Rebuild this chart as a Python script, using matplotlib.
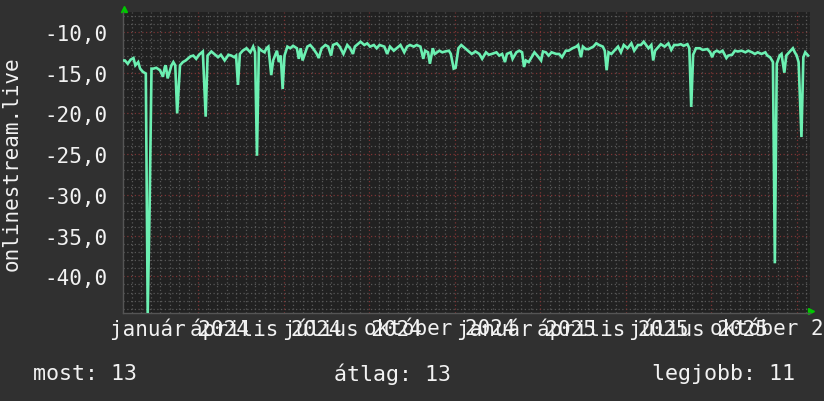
import numpy as np
import pandas as pd
import matplotlib
matplotlib.use("Agg")
import matplotlib.pyplot as plt

# napok a kezdettol (2023-11-03) es a mert ertekek
start = pd.Timestamp("2023-11-03")
span_days = 723

days = [1, 2, 5, 8, 11, 13, 16, 18, 21, 24, 26, 28, 30, 32, 35, 39, 42, 44, 45, 47,
        51, 53, 55, 57, 60, 63, 66, 71, 74, 77, 80, 84, 87, 89, 93, 97, 100, 103, 107, 111,
        114, 117, 119, 121, 123, 126, 130, 134, 137, 139, 141, 143, 146, 149, 151, 153, 156, 158, 162, 164,
        166, 168, 170, 173, 176, 179, 183, 185, 187, 189, 194, 197, 200, 204, 206, 209, 213, 216, 219, 221,
        225, 228, 232, 236, 239, 242, 244, 248, 250, 254, 257, 260, 264, 267, 270, 275, 278, 281, 285, 288,
        292, 296, 299, 302, 306, 309, 313, 316, 318, 321, 323, 326, 328, 333, 336, 339, 343, 345, 348, 350,
        353, 356, 360, 364, 367, 371, 375, 378, 382, 385, 388, 393, 396, 399, 402, 404, 408, 410, 414, 417,
        420, 422, 424, 427, 430, 433, 436, 440, 442, 445, 448, 451, 456, 459, 462, 466, 469, 473, 477, 479,
        482, 484, 487, 490, 495, 498, 501, 505, 507, 509, 511, 514, 517, 521, 524, 527, 531, 535, 538, 542,
        545, 548, 553, 556, 558, 560, 563, 566, 570, 574, 577, 580, 584, 587, 590, 594, 596, 598, 600, 603,
        607, 610, 615, 618, 620, 622, 625, 628, 631, 635, 637, 641, 644, 647, 651, 655, 658, 662, 665, 668,
        672, 676, 678, 681, 684, 686, 688, 691, 693, 696, 698, 701, 705, 707, 709, 711, 714, 716, 718, 721]

values = [-13.5, -13.5, -13.9, -13.4, -13.2, -14.1, -13.7, -14.5, -14.9, -15.1, -44.5, -31.6, -14.5, -14.5, -14.4, -14.7, -15.5, -14.3, -14.1, -15.7,
          -14.1, -13.7, -14.1, -20.0, -14.1, -13.7, -13.5, -13.0, -12.9, -13.3, -12.8, -12.4, -20.4, -12.9, -12.4, -12.8, -13.1, -12.8, -13.5, -12.8,
          -12.9, -13.1, -12.9, -16.5, -12.7, -12.3, -12.0, -12.5, -11.8, -12.5, -25.2, -12.0, -12.3, -12.5, -12.0, -11.8, -15.3, -13.5, -12.3, -13.7,
          -12.9, -17.0, -12.9, -11.8, -12.0, -11.7, -12.0, -13.3, -12.0, -13.5, -11.8, -11.6, -12.0, -12.7, -13.2, -12.0, -11.6, -11.8, -12.9, -11.6,
          -11.4, -11.8, -12.7, -11.6, -12.0, -12.7, -11.8, -11.4, -11.2, -11.6, -11.4, -11.8, -11.6, -12.0, -11.6, -11.8, -12.7, -11.8, -12.3, -12.0,
          -11.6, -12.5, -11.8, -11.6, -11.8, -11.6, -11.8, -13.3, -12.3, -12.5, -13.9, -12.0, -12.7, -12.3, -12.5, -12.4, -12.3, -12.7, -14.5, -14.4,
          -12.0, -11.6, -12.0, -12.4, -12.7, -12.4, -12.7, -13.3, -12.5, -12.8, -12.7, -12.5, -12.9, -12.7, -13.7, -12.7, -12.5, -13.3, -12.5, -12.3,
          -12.5, -14.3, -13.5, -13.7, -13.1, -12.5, -12.9, -13.5, -12.4, -12.5, -12.9, -12.5, -12.7, -12.7, -13.1, -12.3, -12.3, -12.0, -11.8, -11.6,
          -13.1, -11.8, -12.1, -12.1, -11.8, -11.4, -11.6, -11.8, -12.3, -14.7, -12.5, -12.7, -12.3, -11.8, -12.5, -11.6, -12.0, -11.4, -12.3, -11.6,
          -11.6, -11.2, -12.0, -11.6, -13.5, -12.3, -11.9, -11.5, -11.8, -11.4, -12.2, -11.6, -11.6, -11.5, -11.7, -11.5, -12.0, -19.2, -12.8, -12.0,
          -12.0, -12.2, -12.1, -12.5, -13.1, -12.5, -12.3, -12.5, -12.3, -13.2, -12.9, -12.8, -12.3, -12.4, -12.3, -12.5, -12.3, -12.5, -12.7, -12.5,
          -12.7, -12.5, -12.9, -13.1, -13.7, -38.4, -13.9, -12.9, -12.7, -15.0, -12.9, -12.5, -12.0, -12.5, -12.9, -13.7, -22.9, -13.1, -12.5, -12.9]

label_dates = ["2024-01-01", "2024-04-01", "2024-07-01", "2024-10-01",
               "2025-01-01", "2025-04-01", "2025-07-01", "2025-10-01"]
label_text = ["január 2024", "április 2024", "július 2024", "október 2024",
              "január 2025", "április 2025", "július 2025", "október 2025"]
ytick_vals = [-10, -15, -20, -25, -30, -35, -40]
ytick_text = ["-10,0", "-15,0", "-20,0", "-25,0", "-30,0", "-35,0", "-40,0"]
legend_text = ["most: 13", "átlag: 13", "legjobb: 11"]

BG = "#303030"
PLOT_BG = "#212121"
LINE = "#6cf0b2"
MINOR = "#575757"
MAJOR = "#7c3434"
TXT = "#f2f2f2"
FONT = "DejaVu Sans Mono"
FS = 15

plt.rcParams["font.family"] = FONT

fig = plt.figure(figsize=(8.24, 4.02), dpi=100)
fig.patch.set_facecolor(BG)
ax = fig.add_axes([123 / 824, 1 - 314 / 402, 687 / 824, 301 / 402])
ax.set_facecolor(PLOT_BG)

t = start + pd.to_timedelta(days, unit="D")
end = start + pd.Timedelta(days=span_days)

# racs
dot = (0, (1, 2))
for v in range(-44, -7):
    if v % 5 == 0:
        ax.axhline(v, color=MAJOR, lw=0.9, ls=dot, zorder=1)
    else:
        ax.axhline(v, color=MINOR, lw=0.9, ls=dot, zorder=1)

major_base = pd.Timestamp("2024-07-19")
d = major_base
while d > start:
    d -= pd.Timedelta(days=10)
while d < end:
    off = (d - major_base).days
    col = MAJOR if off % 90 == 0 else MINOR
    ax.axvline(d, color=col, lw=0.9, ls=dot, zorder=1)
    d += pd.Timedelta(days=10)

ax.plot(t, values, color=LINE, lw=1.9, zorder=3, solid_joinstyle="miter")

ax.set_xlim(start, end)
ax.set_ylim(-44.5, -7.55)

ax.set_yticks(ytick_vals)
ax.set_yticklabels(ytick_text)
ax.set_xticks(pd.to_datetime(label_dates))
ax.set_xticklabels(label_text)
ax.tick_params(axis="y", length=0, pad=11.5, labelsize=FS, labelcolor=TXT)
ax.tick_params(axis="x", length=0, pad=3.5, labelsize=FS, labelcolor=TXT)

for s in ["top", "right"]:
    ax.spines[s].set_visible(False)
for s in ["left", "bottom"]:
    ax.spines[s].set_color("#555555")
    ax.spines[s].set_linewidth(1.0)

# zold nyilak a tengelyek vegen
ax.plot([0.002], [1.01], marker="^", color="#00c800", ms=5, transform=ax.transAxes, clip_on=False)
ax.plot([1.002], [0.006], marker=">", color="#00c800", ms=5, transform=ax.transAxes, clip_on=False)

fig.text(12 / 824, 1 - 164 / 402, "onlinestream.live", rotation=90, ha="center", va="center",
         color=TXT, fontsize=FS)

xs = [33, 334, 652]
for txt, x in zip(legend_text, xs):
    fig.text(x / 824, 1 - 374 / 402, txt, ha="left", va="center", color=TXT, fontsize=15.6)

fig.savefig("out.png", dpi=100, facecolor=BG)
